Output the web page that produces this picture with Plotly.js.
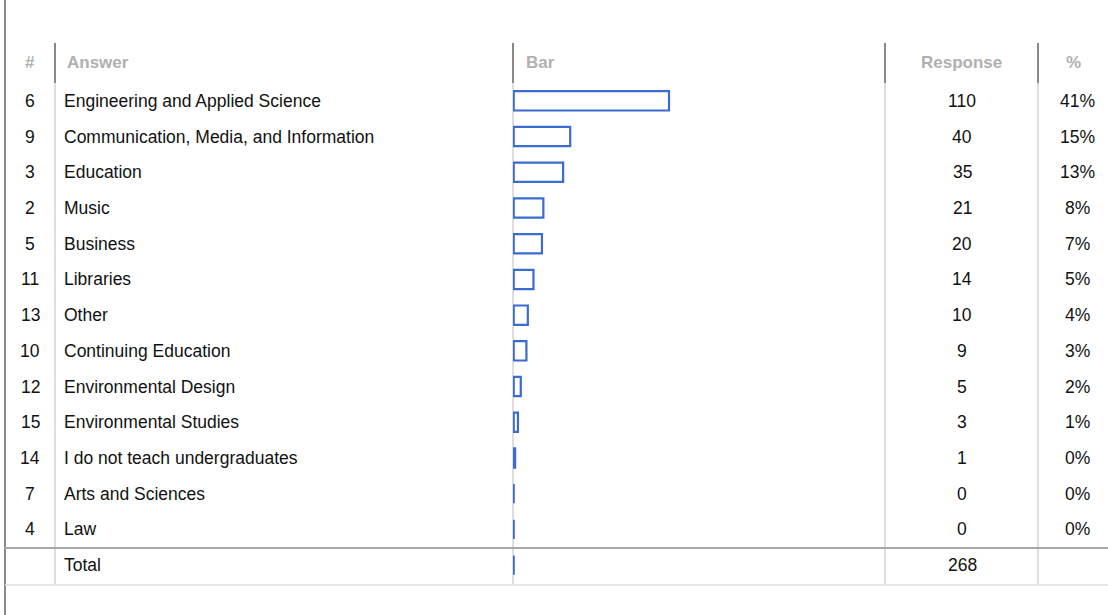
<!DOCTYPE html>
<html>
<head>
<meta charset="utf-8">
<script src="https://cdn.plot.ly/plotly-3.0.1.min.js"></script>
<style>html,body{margin:0;padding:0;background:#fff;}#chart{width:1108px;height:615px;}</style>
</head>
<body>
<div id="chart"></div>
<script>
// ---- data ----
const ids = ['6','9','3','2','5','11','13','10','12','15','14','7','4'];
const answers = ['Engineering and Applied Science','Communication, Media, and Information','Education','Music','Business','Libraries','Other','Continuing Education','Environmental Design','Environmental Studies','I do not teach undergraduates','Arts and Sciences','Law'];
const responses = [110,40,35,21,20,14,10,9,5,3,1,0,0];
const percents = ['41%','15%','13%','8%','7%','5%','4%','3%','2%','1%','0%','0%','0%'];
const totalLabel = 'Total';
const totalResponses = 268;
const headers = ['#','Answer','Bar','Response','%'];

// ---- geometry helpers (pixel -> paper) ----
const W = 1108, H = 615;
const L = 513, R = 885, T = 83, B = 583;
const px = v => (v - L) / (R - L);
const py = v => (B - v) / (B - T);

const cats = answers.concat([totalLabel]);
const barVals = responses.concat([0]);

const trace = {
  type: 'bar', orientation: 'h',
  y: cats, x: barVals,
  marker: {color: '#ffffff', line: {color: '#3a6bd1', width: 2.2}},
  hoverinfo: 'none'
};

const fontBody = {family: 'Liberation Sans, Arial, sans-serif', size: 17.5, color: '#111111'};
const fontHead = {family: 'Liberation Sans, Arial, sans-serif', size: 17, color: '#b0b0b0'};

const ann = [];
// header
const hy = py(63);
ann.push({text: '<b>' + headers[0] + '</b>', x: px(30), xanchor: 'center'});
ann.push({text: '<b>' + headers[1] + '</b>', x: px(65), xanchor: 'left'});
ann.push({text: '<b>' + headers[2] + '</b>', x: px(524), xanchor: 'left'});
ann.push({text: '<b>' + headers[3] + '</b>', x: px(961), xanchor: 'center'});
ann.push({text: '<b>' + headers[4] + '</b>', x: px(1073), xanchor: 'center'});
ann.forEach(a => { a.y = hy; a.xref = 'paper'; a.yref = 'paper'; a.yanchor = 'middle'; a.showarrow = false; a.font = fontHead; });

answers.forEach((a, i) => {
  const base = {xref: 'paper', yref: 'y', y: a, yanchor: 'middle', showarrow: false, font: fontBody};
  ann.push(Object.assign({}, base, {text: ids[i], x: px(30), xanchor: 'center'}));
  ann.push(Object.assign({}, base, {text: a, x: px(62), xanchor: 'left'}));
  ann.push(Object.assign({}, base, {text: String(responses[i]), x: px(962), xanchor: 'center'}));
  ann.push(Object.assign({}, base, {text: percents[i], x: px(1077), xanchor: 'center'}));
});
{
  const base = {xref: 'paper', yref: 'y', y: totalLabel, yanchor: 'middle', showarrow: false, font: fontBody};
  ann.push(Object.assign({}, base, {text: totalLabel, x: px(62), xanchor: 'left'}));
  ann.push(Object.assign({}, base, {text: String(totalResponses), x: px(962), xanchor: 'center'}));
}

const shapes = [];
const line = (x0, y0, x1, y1, color, width) => shapes.push({type: 'line', xref: 'paper', yref: 'paper', x0: px(x0), x1: px(x1), y0: py(y0), y1: py(y1), line: {color: color, width: width}, layer: 'below'});
line(5, 0, 5, 615, '#8a8a8a', 2);
[55, 513, 885, 1038].forEach(x => {
  line(x, 43, x, 83, '#8a8a8a', 2);
  line(x, 83, x, 585, '#dedede', 2);
});
line(5, 548, 1108, 548, '#a8a8a8', 2);
line(5, 585, 1108, 585, '#dedede', 1.5);

const layout = {
  width: W, height: H,
  margin: {l: L, r: W - R, t: T, b: H - B, pad: 0},
  paper_bgcolor: '#ffffff', plot_bgcolor: 'rgba(0,0,0,0)',
  showlegend: false,
  bargap: 0.46,
  xaxis: {range: [-0.5, 263], visible: false, fixedrange: true},
  yaxis: {type: 'category', categoryorder: 'array', categoryarray: cats, autorange: 'reversed', showticklabels: false, showgrid: false, zeroline: false, showline: false, ticks: '', fixedrange: true},
  annotations: ann,
  shapes: shapes
};

Plotly.newPlot('chart', [trace], layout, {displayModeBar: false, staticPlot: true});
</script>
</body>
</html>
